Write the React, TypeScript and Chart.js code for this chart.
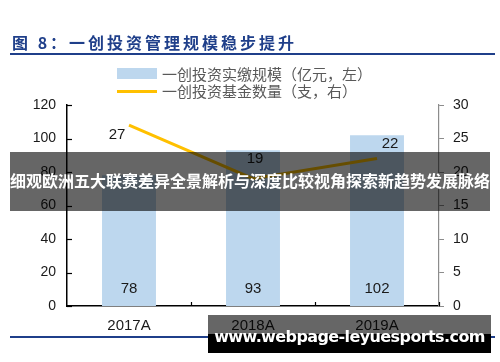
import React, { useEffect, useRef } from "react";
import { Chart, registerables } from "chart.js";

Chart.register(...registerables);

const categories = ["2017A", "2018A", "2019A"];
const paidInScale = [78, 93, 102];
const fundCounts = [27, 19, 22];
const seriesLabels = ["一创投资实缴规模（亿元，左）", "一创投资基金数量（支，右）"];
const seriesColors = ["#BDD7EE", "#FFC000"];
const lineLabelOffsets = [
  [-12, 8],
  [2, -22],
  [13, -17],
];
const titleText = "图 8：一创投资管理规模稳步提升";
const bannerText = "细观欧洲五大联赛差异全景解析与深度比较视角探索新趋势发展脉络";
const watermarkText = "www.webpage-leyuesports.com";

const CJK = '"Noto Sans CJK SC", "Noto Sans", sans-serif';
const LAT = '"Liberation Sans", Arial, sans-serif';

const decorPlugin = {
  id: "decor",
  afterDatasetsDraw(chart: any) {
    const { ctx, chartArea } = chart;
    const x = chart.scales.x;
    const y = chart.scales.y;
    ctx.save();
    ctx.strokeStyle = "#000";
    ctx.lineWidth = 1.2;
    y.ticks.forEach((t: any) => {
      const py = Math.round(y.getPixelForValue(t.value)) + 0.5;
      ctx.beginPath();
      ctx.moveTo(chartArea.left, py);
      ctx.lineTo(chartArea.left + 5, py);
      ctx.stroke();
    });
    for (let i = 0; i < categories.length; i++) {
      let bx;
      if (i < categories.length - 1) {
        bx = (x.getPixelForValue(i) + x.getPixelForValue(i + 1)) / 2;
      } else {
        bx = chartArea.right;
      }
      bx = Math.round(bx) + 0.5;
      ctx.beginPath();
      ctx.moveTo(bx, chartArea.bottom);
      ctx.lineTo(bx, chartArea.bottom - 4);
      ctx.stroke();
    }
    ctx.fillStyle = "#1a1a1a";
    ctx.font = `15px ${LAT}`;
    ctx.textAlign = "center";
    ctx.textBaseline = "middle";
    const barMeta = chart.getDatasetMeta(1);
    barMeta.data.forEach((el: any, i: number) => {
      ctx.fillText(String(paidInScale[i]), el.x, chartArea.bottom - 17);
    });
    const lineMeta = chart.getDatasetMeta(0);
    lineMeta.data.forEach((el: any, i: number) => {
      const [dx, dy] = lineLabelOffsets[i];
      ctx.fillText(String(fundCounts[i]), el.x + dx, el.y + dy + 2);
    });
    ctx.restore();
  },
};

export default function App() {
  const canvasRef = useRef<HTMLCanvasElement | null>(null);

  useEffect(() => {
    if (!canvasRef.current) return;
    const chart = new Chart(canvasRef.current, {
      type: "bar",
      data: {
        labels: categories,
        datasets: [
          {
            type: "line",
            label: seriesLabels[1],
            data: fundCounts,
            yAxisID: "y1",
            borderColor: seriesColors[1],
            backgroundColor: seriesColors[1],
            borderWidth: 3,
            pointRadius: 0,
            tension: 0,
            order: 0,
          } as any,
          {
            type: "bar",
            label: seriesLabels[0],
            data: paidInScale,
            yAxisID: "y",
            backgroundColor: seriesColors[0],
            barPercentage: 0.435,
            categoryPercentage: 1,
            order: 1,
          },
        ],
      },
      options: {
        responsive: false,
        animation: false,
        devicePixelRatio: 1,
        layout: { padding: { top: 105, left: 0, right: 0, bottom: 0 } },
        plugins: {
          legend: { display: false },
          tooltip: { enabled: false },
          title: { display: false },
        },
        scales: {
          x: {
            grid: { display: false, drawTicks: false },
            border: { display: true, color: "#000", width: 1.5 },
            ticks: { font: { size: 15, family: LAT }, color: "#1a1a1a", padding: 11 },
            afterFit: (s: any) => {
              s.height = 56;
            },
          },
          y: {
            position: "left",
            min: 0,
            max: 120,
            grid: { display: false, drawTicks: false },
            border: { display: true, color: "#000", width: 1.5 },
            ticks: { stepSize: 20, font: { size: 14, family: LAT }, color: "#1a1a1a", padding: 11 },
            afterFit: (s: any) => {
              s.width = 67;
            },
          },
          y1: {
            position: "right",
            min: 0,
            max: 30,
            grid: { drawOnChartArea: false, drawTicks: true, tickLength: 5, color: "#8c8c8c", lineWidth: 1 },
            border: { display: true, color: "#8c8c8c", width: 1.2 },
            ticks: { stepSize: 5, font: { size: 14, family: LAT }, color: "#1a1a1a", padding: 9 },
            afterFit: (s: any) => {
              s.width = 61;
            },
          },
        },
      },
      plugins: [decorPlugin],
    });
    return () => chart.destroy();
  }, []);

  const abs = (s: React.CSSProperties): React.CSSProperties => ({ position: "absolute", ...s });

  return (
    <div style={abs({ left: 0, top: 0, width: 500, height: 362, background: "#fff", overflow: "hidden" })}>
      <canvas ref={canvasRef} width={500} height={362} style={abs({ left: 0, top: 0, width: 500, height: 362 })} />
      <div
        style={abs({
          left: 12,
          top: 32,
          fontFamily: CJK,
          fontWeight: 700,
          fontSize: 16,
          lineHeight: "20px",
          letterSpacing: 3,
          color: "#1f3f8a",
          whiteSpace: "nowrap",
        })}
      >
        {titleText}
      </div>
      <div style={abs({ left: 10, top: 53, width: 485, height: 2, background: "#1f3f8a" })} />
      <div style={abs({ left: 117, top: 68, width: 40, height: 11, background: seriesColors[0] })} />
      <div style={abs({ left: 117, top: 90, width: 40, height: 3, background: seriesColors[1] })} />
      {seriesLabels.map((t, i) => (
        <div
          key={t}
          style={abs({
            left: 162,
            top: (i === 0 ? 74 : 91) - 10,
            fontFamily: CJK,
            fontSize: 15,
            lineHeight: "20px",
            color: "#595959",
            whiteSpace: "nowrap",
          })}
        >
          {t}
        </div>
      ))}
      <div
        style={abs({
          left: 10,
          top: 152,
          width: 480,
          height: 59,
          background: "rgba(0,0,0,0.6)",
          color: "#fff",
          fontFamily: CJK,
          fontWeight: 700,
          fontSize: 16,
          lineHeight: "56px",
          textAlign: "center",
          whiteSpace: "nowrap",
        })}
      >
        {bannerText}
      </div>
      <div style={abs({ left: 10, top: 336, width: 485, height: 2, background: "#1f3f8a" })} />
      <div style={abs({ left: 208, top: 315, width: 283, height: 38, background: "rgba(0,0,0,0.6)" })} />
      <div style={abs({ left: 208, top: 334, width: 283, height: 19, background: "#000" })} />
      <div
        style={abs({
          left: 208,
          top: 325,
          width: 283,
          height: 24,
          color: "#fff",
          fontFamily: '"DejaVu Sans", sans-serif',
          fontWeight: 700,
          fontSize: 16,
          letterSpacing: -0.6,
          lineHeight: "24px",
          textAlign: "center",
          whiteSpace: "nowrap",
        })}
      >
        {watermarkText}
      </div>
    </div>
  );
}
